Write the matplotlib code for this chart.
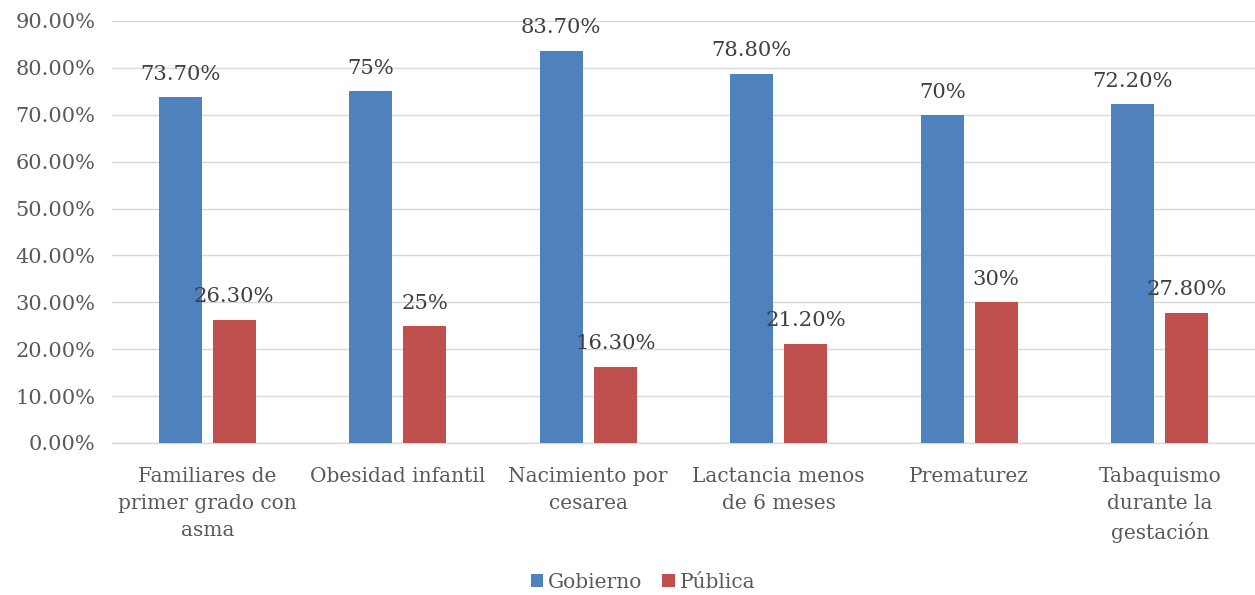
import matplotlib
matplotlib.use("Agg")
import matplotlib.pyplot as plt
import numpy as np

categories = ["Familiares de\nprimer grado con\nasma", "Obesidad infantil", "Nacimiento por\ncesarea",
              "Lactancia menos\nde 6 meses", "Prematurez", "Tabaquismo\ndurante la\ngestación"]
gobierno = [73.7, 75.0, 83.7, 78.8, 70.0, 72.2]
publica = [26.3, 25.0, 16.3, 21.2, 30.0, 27.8]
gob_labels = ["73.70%", "75%", "83.70%", "78.80%", "70%", "72.20%"]
pub_labels = ["26.30%", "25%", "16.30%", "21.20%", "30%", "27.80%"]
yticks = [0, 10, 20, 30, 40, 50, 60, 70, 80, 90]

plt.rcParams['font.family'] = ['DejaVu Serif']
fig = plt.figure(figsize=(12.55, 5.95), dpi=100)
ax = fig.add_axes([112/1255, 1-443/595, 1143/1255, 422/595])

x = np.arange(len(categories))
w = 0.225
off = 0.142
blue = "#4f81bd"
red = "#c0504d"
b1 = ax.bar(x - off, gobierno, w, color=blue, label="Gobierno", zorder=3)
b2 = ax.bar(x + off, publica, w, color=red, label="Pública", zorder=3)
for rect, lab in zip(b1, gob_labels):
    ax.annotate(lab, (rect.get_x() + rect.get_width()/2, rect.get_height()), xytext=(0, 9.5),
                textcoords="offset points", ha="center", va="bottom", fontsize=15.2, color="#404040")
for rect, lab in zip(b2, pub_labels):
    ax.annotate(lab, (rect.get_x() + rect.get_width()/2, rect.get_height()), xytext=(0, 9.5),
                textcoords="offset points", ha="center", va="bottom", fontsize=15.2, color="#404040")

ax.set_xlim(-0.5, len(categories) - 0.5)
ax.set_ylim(0, 90)
ax.set_yticks(yticks)
ax.set_yticklabels([f"{v:.2f}%" for v in yticks], fontsize=15, color="#595959")
ax.set_xticks(x)
ax.set_xticklabels(categories, fontsize=14.5, color="#595959", linespacing=1.55, va="top")
ax.tick_params(axis="both", length=0)
ax.tick_params(axis="x", pad=17)
ax.tick_params(axis="y", pad=12)
ax.grid(axis="y", color="#d9d9d9", linewidth=1.0, zorder=0)
for s in ["top", "right", "left"]:
    ax.spines[s].set_visible(False)
ax.spines["bottom"].set_color("#d9d9d9")
ax.spines["bottom"].set_linewidth(1.0)

leg = fig.legend(handles=[b1, b2], labels=["Gobierno", "Pública"], loc="center",
                 bbox_to_anchor=(643/1255, 1-582/595), ncol=2, frameon=False,
                 fontsize=14.5, handlelength=0.6, handleheight=0.6, handletextpad=0.25, columnspacing=1.0)
for t in leg.get_texts():
    t.set_color("#595959")

fig.savefig("out.png", dpi=100)
